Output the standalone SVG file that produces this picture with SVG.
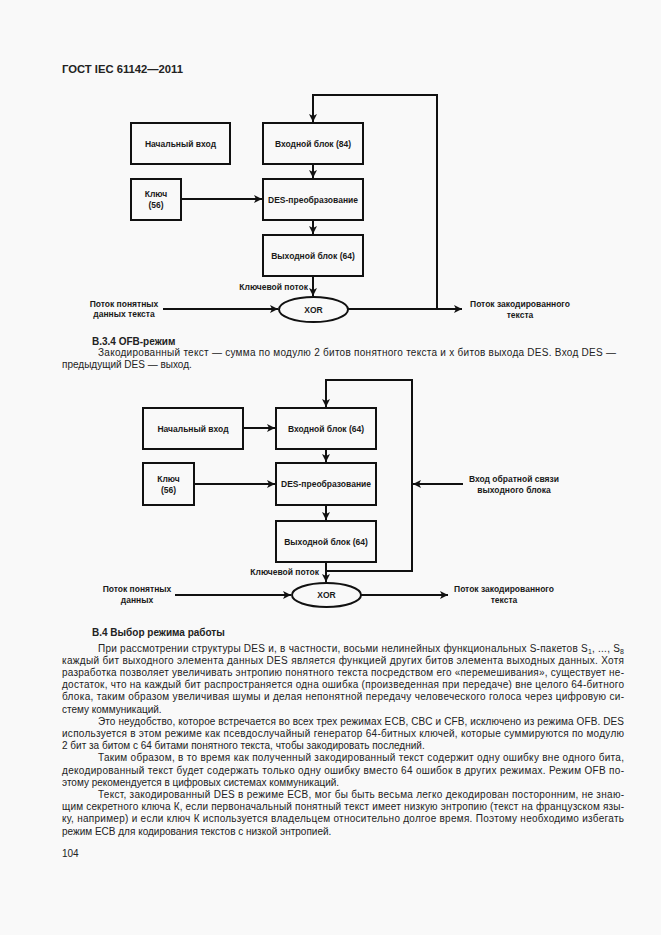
<svg xmlns="http://www.w3.org/2000/svg" width="661" height="935" viewBox="0 0 661 935">
<defs>
<marker id="ah" viewBox="0 0 8 8" refX="8" refY="4" markerWidth="8" markerHeight="8" markerUnits="userSpaceOnUse" orient="auto">
<path d="M0,0 L8,4 L0,8 L2,4 z" fill="#111"/>
</marker>
<style>
.bx{fill:none;stroke:#111;stroke-width:2}
.ln{fill:none;stroke:#111;stroke-width:2}
.ar{fill:none;stroke:#111;stroke-width:2;marker-end:url(#ah)}
.lb{font-family:"Liberation Sans",Arial,sans-serif;font-size:8.5px;font-weight:bold;fill:#1a1a1a;text-anchor:middle}
.lr{font-family:"Liberation Sans",Arial,sans-serif;font-size:8.5px;font-weight:bold;fill:#1a1a1a;text-anchor:end}
.tx{font-family:"Liberation Sans",Arial,sans-serif;font-size:10px;fill:#222}
.hd{font-family:"Liberation Sans",Arial,sans-serif;font-size:10px;font-weight:bold;fill:#222}
</style>
</defs>
<rect x="0" y="0" width="661" height="935" fill="#f9f9f9"/>
<text class="hd" x="62" y="73" font-size="11" textLength="121" lengthAdjust="spacingAndGlyphs">ГОСТ IEC 61142—2011</text>

<!-- Top diagram -->
<g id="connectors-top">
<path class="ar" d="M437,309 V95 H313 V122"/>
<path class="ar" d="M313,164 V178"/>
<path class="ar" d="M181,199 H262"/>
<path class="ar" d="M313,220 V234"/>
<path class="ar" d="M313,276 V296"/>
<path class="ar" d="M163,309 H278"/>
<path class="ar" d="M348,309 H462"/>
</g>
<g id="t-init"><rect class="bx" x="131" y="123" width="99" height="41"/><text class="lb" x="180.5" y="147">Начальный вход</text></g>
<g id="t-inblock"><rect class="bx" x="263" y="123" width="100" height="41"/><text class="lb" x="313" y="147">Входной блок (84)</text></g>
<g id="t-key"><rect class="bx" x="131" y="179" width="50" height="41"/><text class="lb" x="156" y="197">Ключ</text><text class="lb" x="156" y="208">(56)</text></g>
<g id="t-des"><rect class="bx" x="263" y="179" width="100" height="41"/><text class="lb" x="313" y="202.5">DES-преобразование</text></g>
<g id="t-outblock"><rect class="bx" x="263" y="235" width="100" height="41"/><text class="lb" x="313" y="259">Выходной блок (64)</text></g>
<g id="t-xor"><ellipse class="bx" cx="313.5" cy="309.5" rx="34.5" ry="12.5"/><text class="lb" x="313.5" y="312.5">XOR</text></g>
<g id="t-labels">
<text class="lr" x="308" y="290">Ключевой поток</text>
<text class="lb" x="124" y="307">Поток понятных</text>
<text class="lb" x="124" y="317">данных текста</text>
<text class="lb" x="520" y="307">Поток закодированного</text>
<text class="lb" x="520" y="318">текста</text>
</g>

<text class="hd" x="92" y="344.5" font-size="9.5">В.3.4  OFB-режим</text>
<text class="tx" x="98" y="356" textLength="518" lengthAdjust="spacing">Закодированный текст — сумма по модулю 2 битов понятного текста и x битов выхода DES. Вход DES —</text>
<text class="tx" x="62" y="367.5">предыдущий DES — выход.</text>

<!-- Bottom diagram -->
<g id="connectors-bottom">
<path class="ar" d="M326,571 H412 V380 H326 V407"/>
<path class="ar" d="M243,428 H275"/>
<path class="ar" d="M326,449 V462"/>
<path class="ar" d="M194,484 H275"/>
<path class="ar" d="M326,505 V520"/>
<path class="ar" d="M326,562 V582"/>
<path class="ar" d="M175,595 H291"/>
<path class="ar" d="M361,595 H448"/>
<path class="ar" d="M463,484 H413"/>
</g>
<g id="b-init"><rect class="bx" x="143" y="408" width="100" height="41"/><text class="lb" x="193" y="432">Начальный вход</text></g>
<g id="b-inblock"><rect class="bx" x="276" y="408" width="100" height="41"/><text class="lb" x="326" y="432">Входной блок (64)</text></g>
<g id="b-key"><rect class="bx" x="143" y="463" width="51" height="42"/><text class="lb" x="168.5" y="482">Ключ</text><text class="lb" x="168.5" y="493">(56)</text></g>
<g id="b-des"><rect class="bx" x="276" y="463" width="100" height="42"/><text class="lb" x="326" y="487">DES-преобразование</text></g>
<g id="b-outblock"><rect class="bx" x="276" y="521" width="100" height="41"/><text class="lb" x="326" y="545">Выходной блок (64)</text></g>
<g id="b-xor"><ellipse class="bx" cx="326.5" cy="595" rx="34.5" ry="12"/><text class="lb" x="326.5" y="598">XOR</text></g>
<g id="b-labels">
<text class="lr" x="319" y="575">Ключевой поток</text>
<text class="lb" x="137" y="592">Поток понятных</text>
<text class="lb" x="137" y="603">данных</text>
<text class="lb" x="504" y="592">Поток закодированного</text>
<text class="lb" x="504" y="603">текста</text>
<text class="lb" x="514" y="482">Вход обратной связи</text>
<text class="lb" x="514" y="493">выходного блока</text>
</g>

<text class="hd" x="92" y="636" font-size="9.5">В.4  Выбор режима работы</text>
<g id="body">
<text class="tx" x="98" y="651.5" textLength="526" lengthAdjust="spacing">При рассмотрении структуры DES и, в частности, восьми нелинейных функциональных S-пакетов S<tspan dy="2" font-size="7">1</tspan><tspan dy="-2">, ..., S</tspan><tspan dy="2" font-size="7">8</tspan></text>
<text class="tx" x="62" y="663.7" textLength="562" lengthAdjust="spacing">каждый бит выходного элемента данных DES является функцией других битов элемента выходных данных. Хотя</text>
<text class="tx" x="62" y="675.9" textLength="562" lengthAdjust="spacing">разработка позволяет увеличивать энтропию понятного текста посредством его «перемешивания», существует не-</text>
<text class="tx" x="62" y="688.1" textLength="562" lengthAdjust="spacing">достаток, что на каждый бит распространяется одна ошибка (произведенная при передаче) вне целого 64-битного</text>
<text class="tx" x="62" y="700.3" textLength="562" lengthAdjust="spacing">блока, таким образом увеличивая шумы и делая непонятной передачу человеческого голоса через цифровую си-</text>
<text class="tx" x="62" y="712.5">стему коммуникаций.</text>
<text class="tx" x="98" y="724.7" textLength="526" lengthAdjust="spacing">Это неудобство, которое встречается во всех трех режимах ECB, CBC и CFB, исключено из режима OFB. DES</text>
<text class="tx" x="62" y="736.9" textLength="562" lengthAdjust="spacing">используется в этом режиме как псевдослучайный генератор 64-битных ключей, которые суммируются по модулю</text>
<text class="tx" x="62" y="749.1">2 бит за битом с 64 битами понятного текста, чтобы закодировать последний.</text>
<text class="tx" x="98" y="761.3" textLength="526" lengthAdjust="spacing">Таким образом, в то время как полученный закодированный текст содержит одну ошибку вне одного бита,</text>
<text class="tx" x="62" y="773.5" textLength="562" lengthAdjust="spacing">декодированный текст будет содержать только одну ошибку вместо 64 ошибок в других режимах. Режим OFB по-</text>
<text class="tx" x="62" y="785.7">этому рекомендуется в цифровых системах коммуникаций.</text>
<text class="tx" x="98" y="797.9" textLength="526" lengthAdjust="spacing">Текст, закодированный DES в режиме ECB, мог бы быть весьма легко декодирован посторонним, не знаю-</text>
<text class="tx" x="62" y="810.1" textLength="562" lengthAdjust="spacing">щим секретного ключа К, если первоначальный понятный текст имеет низкую энтропию (текст на французском язы-</text>
<text class="tx" x="62" y="822.3" textLength="562" lengthAdjust="spacing">ку, например) и если ключ К используется владельцем относительно долгое время. Поэтому необходимо избегать</text>
<text class="tx" x="62" y="834.5">режим ECB для кодирования текстов с низкой энтропией.</text>
</g>
<text class="tx" x="62" y="857">104</text>
</svg>
